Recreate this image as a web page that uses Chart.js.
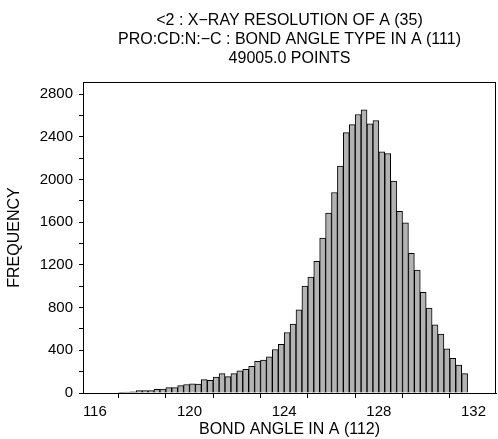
<!DOCTYPE html>
<html>
<head>
<meta charset="utf-8">
<script src="https://cdn.jsdelivr.net/npm/chart.js@4/dist/chart.umd.min.js"></script>
<style>
    html, body { margin: 0; padding: 0; background: #fff; }
    #wrap { width: 498px; height: 439px; }
</style>
</head>
<body>
<div id="wrap"><canvas id="histo" width="498" height="439"></canvas></div>
<script>
// histogram bins (lower edge of each 0.25 deg bin) and counts
const binStart = [
    117.00, 117.25, 117.50, 117.75, 118.00, 118.25, 118.50, 118.75,
    119.00, 119.25, 119.50, 119.75, 120.00, 120.25, 120.50, 120.75,
    121.00, 121.25, 121.50, 121.75, 122.00, 122.25, 122.50, 122.75,
    123.00, 123.25, 123.50, 123.75, 124.00, 124.25, 124.50, 124.75,
    125.00, 125.25, 125.50, 125.75, 126.00, 126.25, 126.50, 126.75,
    127.00, 127.25, 127.50, 127.75, 128.00, 128.25, 128.50, 128.75,
    129.00, 129.25, 129.50, 129.75, 130.00, 130.25, 130.50, 130.75,
    131.00, 131.25, 131.50
];
const counts = [
    6, 9, 12, 22, 22, 22, 34, 37,
    50, 50, 69, 80, 87, 84, 125, 118,
    150, 181, 153, 181, 208, 222, 250, 298,
    308, 340, 408, 456, 567, 645, 780, 1002,
    1086, 1235, 1453, 1687, 1879, 2126, 2441, 2515,
    2610, 2653, 2522, 2554, 2260, 2245, 1986, 1702,
    1596, 1310, 1152, 943, 796, 639, 552, 414,
    324, 262, 181
];
const binWidth = 0.25;

// axis ticks
const xTicks = [116, 118, 120, 122, 124, 126, 128, 130, 132];
const xLabeled = [116, 120, 124, 128, 132];
const yTicks = [0, 200, 400, 600, 800, 1000, 1200, 1400, 1600, 1800, 2000, 2200, 2400, 2600, 2800];
const yLabeled = [0, 400, 800, 1200, 1600, 2000, 2400, 2800];

const titleLines = [
    "<2 : X\u2212RAY RESOLUTION OF A (35)",
    "PRO:CD:N:\u2212C : BOND ANGLE TYPE IN A (111)",
    "49005.0 POINTS"
];

Chart.defaults.color = "#000";
Chart.defaults.font.family = "'Liberation Sans', Arial, sans-serif";
Chart.defaults.font.size = 15;

// box around the plot area
const frame = {
    id: "frame",
    afterDraw(chart) {
        const a = chart.chartArea;
        const c = chart.ctx;
        c.save();
        c.strokeStyle = "#000";
        c.lineWidth = 1;
        c.strokeRect(Math.round(a.left) + 0.5, Math.round(a.top) + 0.5,
            Math.round(a.right - a.left) - 1, Math.round(a.bottom - a.top));
        c.restore();
    }
};

const ctx = document.getElementById("histo").getContext("2d");
new Chart(ctx, {
    type: "bar",
    data: {
        datasets: [{
            data: binStart.map((s, i) => ({ x: s + binWidth / 2, y: counts[i] })),
            backgroundColor: "#b3b3b3",
            borderColor: "#000",
            borderWidth: 1,
            borderSkipped: "bottom",
            barPercentage: 1,
            categoryPercentage: 1
        }]
    },
    plugins: [frame],
    options: {
        responsive: false,
        animation: false,
        events: [],
        layout: { padding: { left: 0, right: 2, top: 0, bottom: 0 } },
        plugins: {
            legend: { display: false },
            tooltip: { enabled: false },
            title: {
                display: true,
                fullSize: false,
                text: titleLines,
                color: "#000",
                font: { size: 16, weight: "normal", lineHeight: 19 / 16 },
                padding: { top: 11, bottom: 14 }
            }
        },
        scales: {
            x: {
                type: "linear",
                min: 115.5,
                max: 132.95,
                offset: false,
                afterBuildTicks: (s) => { s.ticks = xTicks.map(v => ({ value: v })); },
                afterFit: (s) => { s.height = 46; },
                ticks: {
                    autoSkip: false,
                    maxRotation: 0,
                    padding: 5,
                    callback: (v) => xLabeled.includes(v) ? String(v) : ""
                },
                grid: { drawOnChartArea: false, tickLength: 5, color: "#000" },
                border: { color: "#000", width: 1 },
                title: {
                    display: true,
                    text: "BOND ANGLE IN A (112)",
                    font: { size: 16 },
                    padding: { top: 0, bottom: 0 }
                }
            },
            y: {
                min: 0,
                max: 2915,
                afterBuildTicks: (s) => { s.ticks = yTicks.map(v => ({ value: v })); },
                afterFit: (s) => { s.width = 83; },
                ticks: {
                    autoSkip: false,
                    padding: 6,
                    callback: (v) => yLabeled.includes(v) ? String(v) : ""
                },
                grid: { drawOnChartArea: false, tickLength: 4, color: "#000" },
                border: { color: "#000", width: 1 },
                title: {
                    display: true,
                    text: "FREQUENCY",
                    font: { size: 16 },
                    padding: { top: 5, bottom: 5 }
                }
            }
        }
    }
});
</script>
</body>
</html>
